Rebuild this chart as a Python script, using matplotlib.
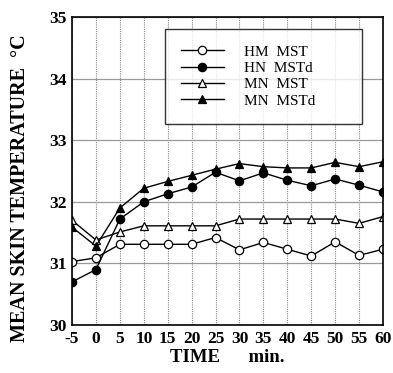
import matplotlib
matplotlib.use("Agg")
import matplotlib.pyplot as plt

time = [-5, 0, 5, 10, 15, 20, 25, 30, 35, 40, 45, 50, 55, 60]
hm_mst = [31.03, 31.09, 31.31, 31.31, 31.31, 31.31, 31.42, 31.22, 31.34, 31.23, 31.12, 31.35, 31.13, 31.23]
hn_mstd = [30.70, 30.90, 31.72, 32.00, 32.13, 32.24, 32.48, 32.34, 32.47, 32.35, 32.26, 32.37, 32.27, 32.16]
mn_mst = [31.70, 31.38, 31.51, 31.61, 31.61, 31.61, 31.61, 31.72, 31.72, 31.72, 31.72, 31.72, 31.65, 31.76]
mn_mstd = [31.59, 31.28, 31.90, 32.22, 32.33, 32.43, 32.53, 32.62, 32.57, 32.55, 32.55, 32.64, 32.57, 32.65]
labels = ["HM  MST", "HN  MSTd", "MN  MST", "MN  MSTd"]
yticks = [30, 31, 32, 33, 34, 35]

plt.rcParams['font.family'] = ['Liberation Serif', 'DejaVu Serif']
plt.rcParams['axes.unicode_minus'] = False

fig = plt.figure(figsize=(3.93, 3.73), dpi=100)
ax = fig.add_axes([72/393, 1-325/373, 311/393, 308/373])

kw = dict(color='black', lw=1.0, ms=6, mec='black', mew=0.9)
ax.plot(time, hm_mst, marker='o', mfc='white', label=labels[0], **kw)
ax.plot(time, hn_mstd, marker='o', mfc='black', label=labels[1], **kw)
ax.plot(time, mn_mst, marker='^', mfc='white', label=labels[2], **kw)
ax.plot(time, mn_mstd, marker='^', mfc='black', label=labels[3], **kw)

ax.set_xlim(-5, 60)
ax.set_ylim(30, 35)
ax.set_xticks(time)
ax.set_yticks(yticks)
ax.tick_params(length=0, labelsize=12.5, pad=4)
for t in ax.get_xticklabels() + ax.get_yticklabels():
    t.set_fontweight('bold')
ax.xaxis.grid(True, color='#888888', lw=0.8, ls=(0, (1, 1)))
ax.yaxis.grid(True, color='#999999', lw=0.9)
ax.set_axisbelow(True)
for s in ax.spines.values():
    s.set_linewidth(1.2)

ax.set_xlabel("TIME      min.", fontsize=13.5, fontweight='bold', labelpad=2)
ax.set_ylabel("MEAN SKIN TEMPERATURE  \u00b0C", fontsize=14.5, fontweight='bold')
ax.yaxis.set_label_coords(-0.135, 0.445)

leg = ax.legend(loc='upper left', bbox_to_anchor=(0.299, 0.649, 0.633, 0.312), mode='expand',
                fontsize=11, frameon=True, fancybox=False, edgecolor='black',
                handlelength=2.8, labelspacing=0.17, borderpad=1.05, handletextpad=1.3,
                borderaxespad=0)
leg.get_frame().set_linewidth(1.0)

fig.savefig("out.png", dpi=100)
